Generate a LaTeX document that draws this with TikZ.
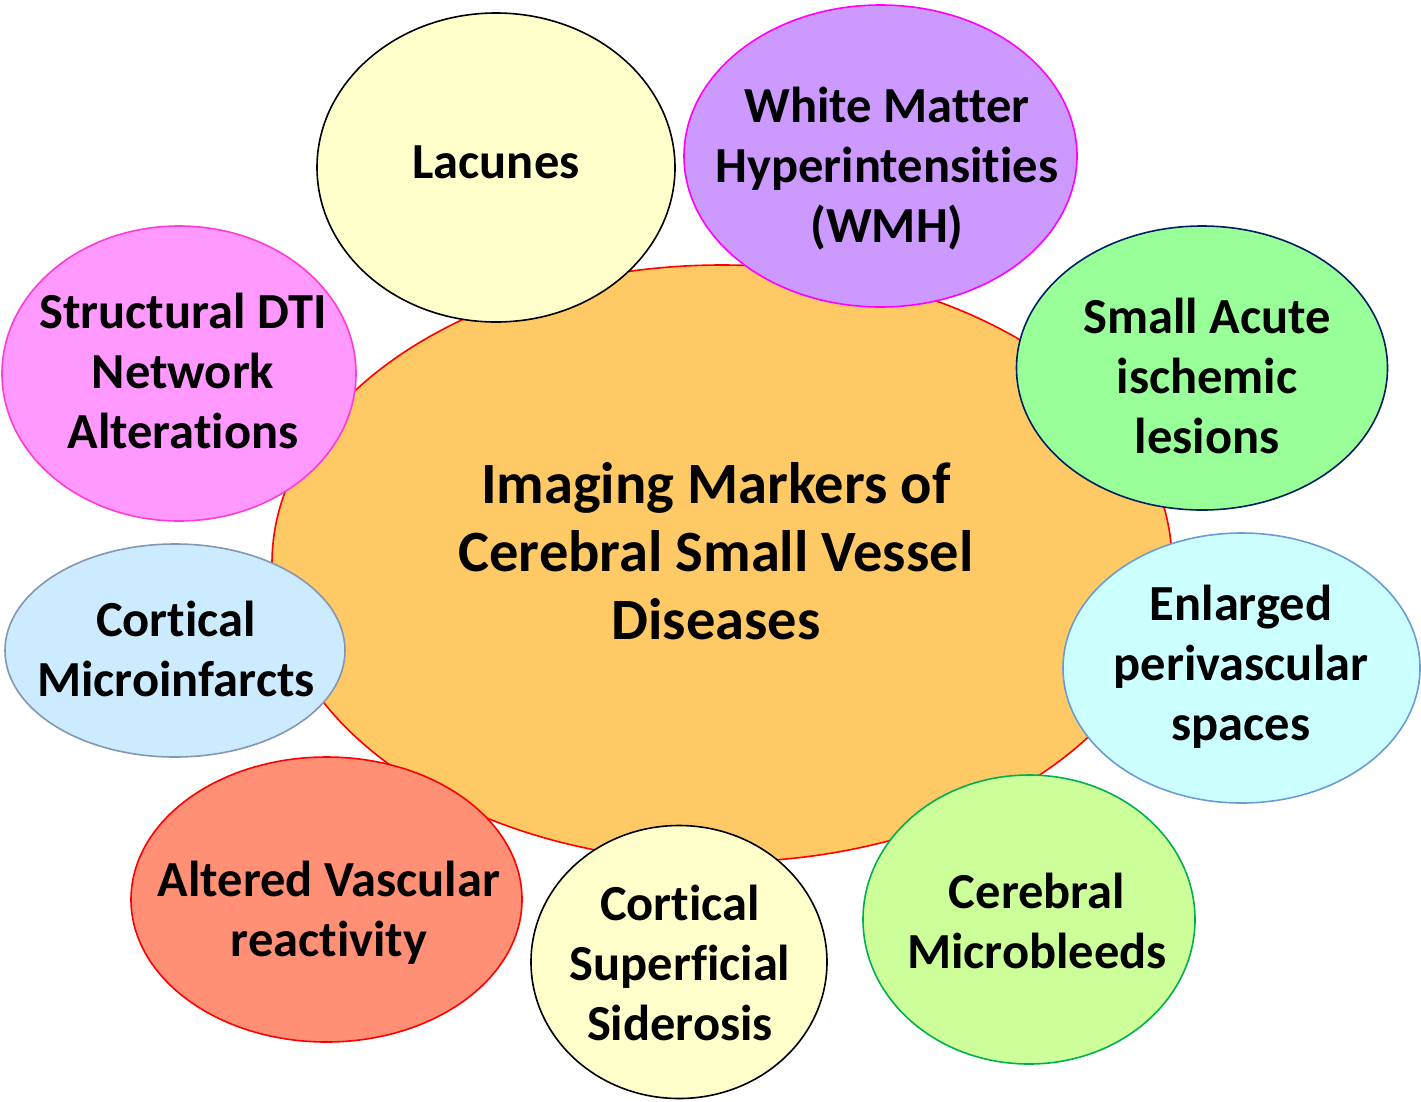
\documentclass[tikz,border=0pt]{standalone}
\usepackage{fontspec}
\setmainfont{Carlito}[Ligatures={NoCommon}]
\usetikzlibrary{shapes.geometric}
\definecolor{cOrange}{HTML}{FFCA66}
\definecolor{cLac}{HTML}{FFFFCC}
\definecolor{cWmh}{HTML}{CC99FF}
\definecolor{cWmhB}{HTML}{FF00FF}
\definecolor{cSai}{HTML}{99FF99}
\definecolor{cSaiB}{HTML}{002060}
\definecolor{cEpv}{HTML}{CCFFFF}
\definecolor{cEpvB}{HTML}{6A9BD6}
\definecolor{cCmb}{HTML}{CCFF99}
\definecolor{cCmbB}{HTML}{00B050}
\definecolor{cAvr}{HTML}{FF8F75}
\definecolor{cCmi}{HTML}{CCEBFF}
\definecolor{cCmiB}{HTML}{8497B0}
\definecolor{cDti}{HTML}{FF99FF}
\definecolor{cDtiB}{HTML}{FF3CD2}
\begin{document}
\begin{tikzpicture}[x=1pt,y=-1pt,
  bub/.style={ellipse, draw, line width=1.6pt, inner sep=0pt},
  lbl/.style={align=center, anchor=base, inner sep=0pt, font=\fontsize{50.5}{60}\selectfont\bfseries},
  clbl/.style={align=center, anchor=base, inner sep=0pt, font=\fontsize{58.5}{68}\selectfont\bfseries}]
\useasboundingbox (0,0) rectangle (1421,1101);
% central
\node[bub, draw=red, fill=cOrange, minimum width=900pt, minimum height=597pt] (ctr) at (722,563.5) {};
% satellites
\node[bub, draw=black, fill=cLac, minimum width=358pt, minimum height=309pt] (lac) at (496,167.5) {};
\node[bub, draw=cWmhB, fill=cWmh, minimum width=393pt, minimum height=302pt] (wmh) at (880.5,156) {};
\node[bub, draw=cSaiB, fill=cSai, minimum width=371pt, minimum height=284pt] (sai) at (1202,368) {};
\node[bub, draw=cEpvB, fill=cEpv, minimum width=357pt, minimum height=270pt] (epv) at (1241.5,668) {};
\node[bub, draw=cCmbB, fill=cCmb, minimum width=332pt, minimum height=289pt] (cmb) at (1029,919.5) {};
\node[bub, draw=black, fill=cLac, minimum width=296pt, minimum height=273pt] (css) at (679,962) {};
\node[bub, draw=red, fill=cAvr, minimum width=391pt, minimum height=285pt] (avr) at (326.5,899.5) {};
\node[bub, draw=cCmiB, fill=cCmi, minimum width=340pt, minimum height=213pt] (cmi) at (175,650.5) {};
\node[bub, draw=cDtiB, fill=cDti, minimum width=354pt, minimum height=295pt] (dti) at (179,373.5) {};
% labels (anchor base = baseline of last line)
\node[clbl] (tctr) at (716,639) {Imaging Markers of\\Cerebral Small Vessel\\Diseases};
\node[lbl] (tlac) at (496,178) {Lacunes};
\node[lbl] (twmh) at (887,242) {White Matter\\Hyperintensities\\(WMH)};
\node[lbl] (tsai) at (1207,453) {Small Acute\\ischemic\\lesions};
\node[lbl] (tepv) at (1241,740) {Enlarged\\perivascular\\spaces};
\node[lbl] (tcmb) at (1037,968) {Cerebral\\Microbleeds};
\node[lbl] (tcss) at (680,1040) {Cortical\\Superficial\\Siderosis};
\node[lbl] (tavr) at (329,956) {Altered Vascular\\reactivity};
\node[lbl] (tcmi) at (176,696) {Cortical\\Microinfarcts};
\node[lbl] (tdti) at (183,448) {Structural DTI\\Network\\Alterations};
\end{tikzpicture}
\end{document}
